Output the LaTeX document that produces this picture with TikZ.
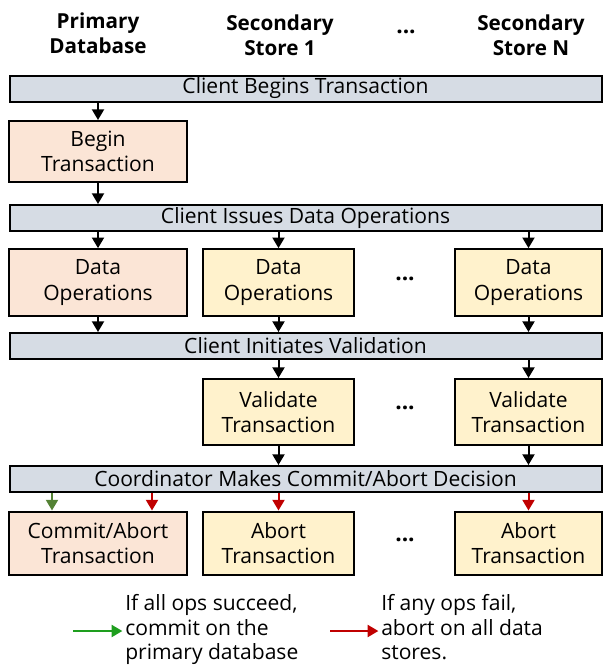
\documentclass[tikz,border=0pt]{standalone}
\usepackage{fontspec}
\setmainfont{Open Sans}
\usepackage{xcolor}
\usepackage{tikz}
\usetikzlibrary{arrows.meta}

\definecolor{barfill}{HTML}{D6DCE4}
\definecolor{primfill}{HTML}{FBE5D6}
\definecolor{secfill}{HTML}{FFF2CC}
\definecolor{okgreen}{HTML}{548235}
\definecolor{leggreen}{HTML}{1E9E1E}
\definecolor{badred}{HTML}{C00000}

\begin{document}
\begin{tikzpicture}[x=0.75pt, y=-0.75pt,
    font=\fontsize{15.8}{18.8}\selectfont,
    >={Triangle[length=8pt,width=9pt]},
    flow/.style={->, line width=1.5pt},
    head/.style={align=center, font=\fontsize{15.5}{18.5}\selectfont\bfseries},
    bar/.style={rectangle, draw, line width=1.5pt, fill=barfill, minimum width=444pt, minimum height=19.5pt, inner sep=0pt},
    pbox/.style={rectangle, draw, line width=1.5pt, fill=primfill, minimum width=133.5pt, align=center, inner sep=0pt},
    sbox/.style={rectangle, draw, line width=1.5pt, fill=secfill, align=center, inner sep=0pt},
    dots/.style={font=\fontsize{17}{18}\selectfont\bfseries},
    legend/.style={align=left, anchor=north west, inner sep=0pt, font=\fontsize{15.8}{18.6}\selectfont}]

    \useasboundingbox (0,0) rectangle (603,665);

    % Column headings
    \node[head] (hprim) at (98,33) {Primary\\Database};
    \node[head] (hs1) at (280,35) {Secondary\\Store 1};
    \node[dots] (hdots) at (406,32) {...};
    \node[head] (hsn) at (531,35) {Secondary\\Store N};

    % Client / coordinator steps
    \node[bar] (begin) at (305.5,88.5) {Client Begins Transaction};
    \node[bar] (issue) at (305.5,218) {Client Issues Data Operations};
    \node[bar] (check) at (305.5,346) {Client Initiates Validation};
    \node[bar] (decide) at (305.5,479) {Coordinator Makes Commit/Abort Decision};

    % Primary database
    \node[pbox, minimum height=45.75pt] (pbegin) at (98,151.5) {Begin\\Transaction};
    \node[pbox, minimum height=50pt] (pops) at (98,282.5) {Data\\Operations};
    \node[pbox, minimum height=47.25pt] (pfin) at (98,543) {Commit/Abort\\Transaction};

    % Secondary store 1
    \node[sbox, minimum width=113.25pt, minimum height=50pt] (s1ops) at (278.5,282.5) {Data\\Operations};
    \node[sbox, minimum width=113.25pt, minimum height=49.5pt] (s1val) at (278.5,412) {Validate\\Transaction};
    \node[sbox, minimum width=113.25pt, minimum height=47.25pt] (s1fin) at (278.5,543) {Abort\\Transaction};

    % Secondary store N
    \node[sbox, minimum width=110.25pt, minimum height=50pt] (snops) at (528.5,282.5) {Data\\Operations};
    \node[sbox, minimum width=110.25pt, minimum height=49.5pt] (snval) at (528.5,412) {Validate\\Transaction};
    \node[sbox, minimum width=110.25pt, minimum height=47.25pt] (snfin) at (528.5,543) {Abort\\Transaction};

    \node[dots] (dots1) at (405,279) {...};
    \node[dots] (dots2) at (405,408) {...};
    \node[dots] (dots3) at (405,540) {...};

    \draw[flow] (begin.south -| pbegin.north) -- (pbegin.north);
    \draw[flow] (pbegin.south) -- (issue.north -| pbegin.south);
    \foreach \n in {pops,s1ops,snops}
        \draw[flow] (issue.south -| \n.north) -- (\n.north);
    \foreach \n in {pops,s1ops,snops}
        \draw[flow] (\n.south) -- (check.north -| \n.south);
    \foreach \n in {s1val,snval}{
        \draw[flow] (check.south -| \n.north) -- (\n.north);
        \draw[flow] (\n.south) -- (decide.north -| \n.south);
    }

    % Decision outcomes
    \coordinate (gx) at (52,0);
    \coordinate (rx) at (152,0);
    \draw[flow, okgreen] (decide.south -| gx) -- (pfin.north -| gx);
    \draw[flow, badred] (decide.south -| rx) -- (pfin.north -| rx);
    \draw[flow, badred] (decide.south -| s1fin.north) -- (s1fin.north);
    \draw[flow, badred] (decide.south -| snfin.north) -- (snfin.north);

    % Legend
    \node[legend] (okleg) at (125,594) {If all ops succeed,\\commit on the\\primary database};
    \node[legend] (badleg) at (381,594) {If any ops fail,\\abort on all data\\stores.};
    \coordinate (okstart) at (73,631);
    \coordinate (badstart) at (330,631);
    \draw[flow, leggreen, shorten >=2pt] (okstart) -- (okstart -| okleg.west);
    \draw[flow, badred, shorten >=2pt] (badstart) -- (badstart -| badleg.west);
\end{tikzpicture}
\end{document}
